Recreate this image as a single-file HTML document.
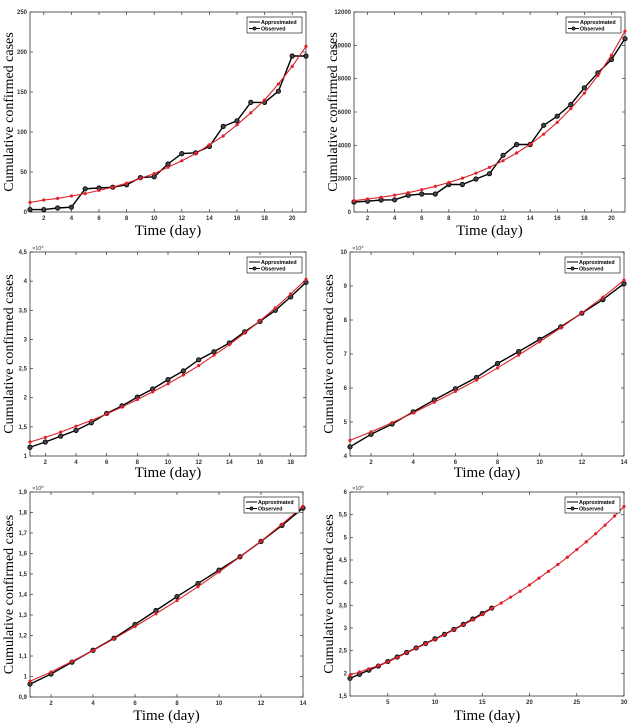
<!DOCTYPE html>
<html><head><meta charset="utf-8"><style>
html,body{margin:0;padding:0;background:#fff;}
svg{display:block;}
</style></head><body>
<svg id="fig" width="638" height="725" viewBox="0 0 638 725" xmlns="http://www.w3.org/2000/svg"></svg>
<script>
// Panel data
const p1Days = [1,2,3,4,5,6,7,8,9,10,11,12,13,14,15,16,17,18,19,20,21];
const p1Obs = [3,3,5,6,29,30,31,34,43,44,60,73,74,82,107,114,137,137,151,195,195];
const p1Apx = [12,15,17,20,23,27,31,36,42,48,56,64,73,84,95,109,124,140,160,182,207];
const p1YTicks = [0,50,100,150,200,250];
const p1YLabels = ["0","50","100","150","200","250"];
const p1XTicks = [2,4,6,8,10,12,14,16,18,20];

const p2Days = [1,2,3,4,5,6,7,8,9,10,11,12,13,14,15,16,17,18,19,20,21];
const p2Obs = [600,650,720,730,1000,1080,1080,1650,1650,1980,2300,3400,4050,4050,5200,5750,6450,7450,8350,9150,10400];
const p2Apx = [680,780,880,1010,1160,1340,1540,1770,2030,2330,2680,3080,3540,4060,4670,5380,6200,7130,8190,9410,10850];
const p2YTicks = [0,2000,4000,6000,8000,10000,12000];
const p2YLabels = ["0","2000","4000","6000","8000","10000","12000"];
const p2XTicks = [2,4,6,8,10,12,14,16,18,20];

const p3Days = [1,2,3,4,5,6,7,8,9,10,11,12,13,14,15,16,17,18,19];
const p3Obs = [1.15,1.24,1.34,1.44,1.57,1.73,1.86,2.01,2.15,2.31,2.46,2.65,2.79,2.94,3.13,3.31,3.50,3.73,3.98];
const p3Apx = [1.24,1.32,1.41,1.51,1.61,1.72,1.84,1.97,2.10,2.24,2.39,2.55,2.73,2.91,3.11,3.32,3.54,3.78,4.03];
const p3YTicks = [1,1.5,2,2.5,3,3.5,4,4.5];
const p3YLabels = ["1","1,5","2","2,5","3","3,5","4","4,5"];
const p3XTicks = [2,4,6,8,10,12,14,16,18];

const p4Days = [1,2,3,4,5,6,7,8,9,10,11,12,13,14];
const p4Obs = [4.27,4.64,4.94,5.30,5.65,5.98,6.31,6.72,7.07,7.43,7.80,8.20,8.60,9.07];
const p4Apx = [4.46,4.71,4.98,5.27,5.58,5.90,6.23,6.59,6.97,7.36,7.77,8.21,8.67,9.17];
const p4YTicks = [4,5,6,7,8,9,10];
const p4YLabels = ["4","5","6","7","8","9","10"];
const p4XTicks = [2,4,6,8,10,12,14];

const p5Days = [1,2,3,4,5,6,7,8,9,10,11,12,13,14];
const p5Obs = [0.963,1.012,1.070,1.128,1.187,1.254,1.322,1.390,1.454,1.519,1.584,1.659,1.737,1.822];
const p5Apx = [0.977,1.022,1.074,1.127,1.184,1.244,1.306,1.371,1.438,1.510,1.583,1.660,1.743,1.830];
const p5YTicks = [0.9,1,1.1,1.2,1.3,1.4,1.5,1.6,1.7,1.8,1.9];
const p5YLabels = ["0,9","1","1,1","1,2","1,3","1,4","1,5","1,6","1,7","1,8","1,9"];
const p5XTicks = [2,4,6,8,10,12,14];

const p6ObsDays = [1,2,3,4,5,6,7,8,9,10,11,12,13,14,15,16];
const p6Obs = [1.89,1.98,2.07,2.16,2.26,2.36,2.46,2.56,2.66,2.76,2.86,2.97,3.08,3.20,3.32,3.44];
const p6ApxDays = [1,2,3,4,5,6,7,8,9,10,11,12,13,14,15,16,17,18,19,20,21,22,23,24,25,26,27,28,29,30];
const p6Apx = [1.96,2.03,2.10,2.17,2.25,2.35,2.45,2.55,2.65,2.75,2.85,2.96,3.07,3.18,3.30,3.43,3.55,3.68,3.81,3.95,4.10,4.25,4.40,4.56,4.73,4.90,5.08,5.27,5.47,5.68];
const p6YTicks = [1.5,2,2.5,3,3.5,4,4.5,5,5.5,6];
const p6YLabels = ["1,5","2","2,5","3","3,5","4","4,5","5","5,5","6"];
const p6XTicks = [5,10,15,20,25,30];

const NS = "http://www.w3.org/2000/svg";
const svg = document.getElementById('fig');
function mk(tag, attrs, parent){
  const e = document.createElementNS(NS, tag);
  for (const k in attrs) e.setAttribute(k, attrs[k]);
  (parent||svg).appendChild(e);
  return e;
}

function panel(id, box, xmin, xmax, ymin, ymax, xticks, yticks, ylabels, obsX, obsY, apxX, apxY, expo, xlabY){
  const g = mk('g', {});
  
  
  const L=box[0], T=box[1], R=box[2], B=box[3];
  const sx = v => L + (v - xmin) / (xmax - xmin) * (R - L);
  const sy = v => B - (v - ymin) / (ymax - ymin) * (B - T);
  const frame = mk('rect', {x:L, y:T, width:R-L, height:B-T, fill:'none', stroke:'#333', 'stroke-width':0.8}, g);
  
  
  const tl = 3;
  xticks.forEach(v => {
    const x = sx(v);
    mk('line', {x1:x, y1:B, x2:x, y2:B-tl, stroke:'#333', 'stroke-width':0.7}, g);
    mk('line', {x1:x, y1:T, x2:x, y2:T+tl, stroke:'#333', 'stroke-width':0.7}, g);
    const t = mk('text', {x:x, y:B+8, 'font-size':6, 'font-weight':'bold', fill:'#333', 'text-anchor':'middle', 'font-family':'Liberation Sans, sans-serif'}, g);
    t.textContent = String(v);
    
    
  });
  yticks.forEach((v,i) => {
    const y = sy(v);
    mk('line', {x1:L, y1:y, x2:L+tl, y2:y, stroke:'#333', 'stroke-width':0.7}, g);
    mk('line', {x1:R, y1:y, x2:R-tl, y2:y, stroke:'#333', 'stroke-width':0.7}, g);
    const t = mk('text', {x:L-3, y:y+2, 'font-size':6, 'font-weight':'bold', fill:'#333', 'text-anchor':'end', 'font-family':'Liberation Sans, sans-serif'}, g);
    t.textContent = ylabels[i];
    
    
  });
  if (expo){
    const t = mk('text', {x:L+2, y:T-2, 'font-size':5.5, fill:'#333', 'font-family':'Liberation Sans, sans-serif'}, g);
    t.innerHTML = '×10<tspan dy="-2" font-size="4">' + expo + '</tspan>';
    
    
  }
  // observed
  const op = obsX.map((d,i) => sx(d).toFixed(2) + ',' + sy(obsY[i]).toFixed(2)).join(' ');
  const ol = mk('polyline', {points:op, fill:'none', stroke:'#000', 'stroke-width':1.4}, g);
  
  
  obsX.forEach((d,i) => {
    const c = mk('circle', {cx:sx(d), cy:sy(obsY[i]), r:2.2, fill:'#444', stroke:'#000', 'stroke-width':0.8}, g);
    
    
  });
  // approximated
  const ap = apxX.map((d,i) => sx(d).toFixed(2) + ',' + sy(apxY[i]).toFixed(2)).join(' ');
  const al = mk('polyline', {points:ap, fill:'none', stroke:'#e0202a', 'stroke-width':1.1}, g);
  
  
  apxX.forEach((d,i) => {
    const c = mk('circle', {cx:sx(d), cy:sy(apxY[i]), r:1.6, fill:'#e0202a'}, g);
    
    
  });
  // legend
  const lg = mk('g', {}, g);
  
  
  const lx = R-59, ly = T+5;
  mk('rect', {x:lx, y:ly, width:55, height:16, fill:'#fff', stroke:'#000', 'stroke-width':0.6}, lg);
  mk('line', {x1:lx+2, y1:ly+5, x2:lx+13, y2:ly+5, stroke:'#000', 'stroke-width':1}, lg);
  mk('line', {x1:lx+2, y1:ly+11.5, x2:lx+13, y2:ly+11.5, stroke:'#000', 'stroke-width':1}, lg);
  mk('circle', {cx:lx+7.5, cy:ly+11.5, r:1.6, fill:'#444', stroke:'#000', 'stroke-width':0.6}, lg);
  const t1 = mk('text', {x:lx+14, y:ly+7, 'font-size':5.3, 'font-weight':'bold', 'font-family':'Liberation Sans, sans-serif'}, lg);
  t1.textContent = 'Approximated';
  
  
  const t2 = mk('text', {x:lx+14, y:ly+13.5, 'font-size':5.3, 'font-weight':'bold', 'font-family':'Liberation Sans, sans-serif'}, lg);
  t2.textContent = 'Observed';
  
  
  // axis titles
  const xt = mk('text', {x:(L+R)/2, y:xlabY, 'font-size':15, 'text-anchor':'middle', 'font-family':'Liberation Serif, serif'}, g);
  xt.textContent = 'Time (day)';
  
  
  const cy = (T+B)/2, cx = L-17;
  const yt = mk('text', {x:cx, y:cy, 'font-size':14, 'text-anchor':'middle', transform:'rotate(-90 '+cx+' '+cy+')', 'font-family':'Liberation Serif, serif'}, g);
  yt.textContent = 'Cumulative confirmed cases';
  
  
}

panel('1', [30,12,306,212], 1, 21, 0, 250, p1XTicks, p1YTicks, p1YLabels, p1Days, p1Obs, p1Days, p1Apx, null, 235);
panel('2', [354,12,625,212], 1, 21, 0, 12000, p2XTicks, p2YTicks, p2YLabels, p2Days, p2Obs, p2Days, p2Apx, null, 235);
panel('3', [30,252,306,456], 1, 19, 1, 4.5, p3XTicks, p3YTicks, p3YLabels, p3Days, p3Obs, p3Days, p3Apx, '4', 477);
panel('4', [350,252,624,456], 1, 14, 4, 10, p4XTicks, p4YTicks, p4YLabels, p4Days, p4Obs, p4Days, p4Apx, '4', 477);
panel('5', [30,492,303,697], 1, 14, 0.9, 1.9, p5XTicks, p5YTicks, p5YLabels, p5Days, p5Obs, p5Days, p5Apx, '5', 720);
panel('6', [350,492,624,696], 1, 30, 1.5, 6, p6XTicks, p6YTicks, p6YLabels, p6ObsDays, p6Obs, p6ApxDays, p6Apx, '5', 720);
</script>
</body></html>
